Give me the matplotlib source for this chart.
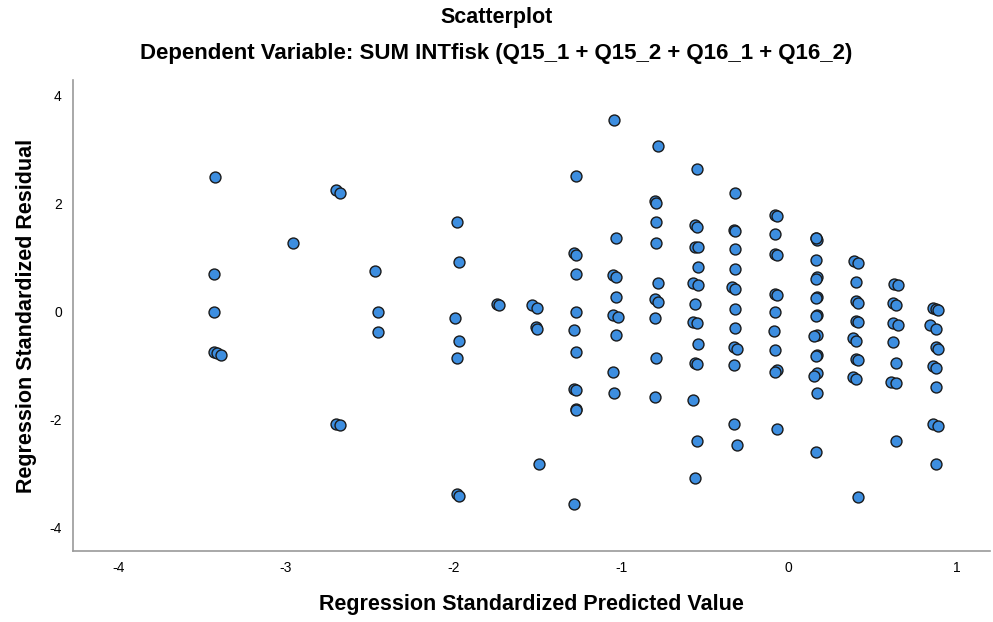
import matplotlib
matplotlib.use("Agg")
import matplotlib.pyplot as plt

# standardized predicted value / standardized residual per case
pred = [
    -3.42, -3.43, -3.43, -3.43, -3.41, -3.39,
    -2.96,
    -2.70, -2.68, -2.70, -2.68,
    -2.47, -2.45, -2.45,
    -1.98, -1.97, -1.99, -1.97, -1.98, -1.98, -1.97,
    -1.74, -1.73,
    -1.53, -1.50, -1.51, -1.50, -1.49,
    -1.27, -1.28, -1.27, -1.27, -1.27, -1.28, -1.27, -1.28, -1.27, -1.27,
    -1.27, -1.28,
    -1.045, -1.03, -1.05, -1.03, -1.03, -1.05, -1.02, -1.03, -1.05, -1.04,
    -0.78, -0.80, -0.79, -0.79, -0.79, -0.78, -0.80, -0.78, -0.80, -0.79,
    -0.80,
    -0.55, -0.56, -0.55, -0.56, -0.54, -0.54, -0.57, -0.54, -0.56, -0.57,
    -0.55, -0.54, -0.56, -0.55, -0.57, -0.55, -0.56,
    -0.32, -0.33, -0.32, -0.32, -0.32, -0.34, -0.32, -0.32, -0.32, -0.33,
    -0.31, -0.33, -0.33, -0.31,
    -0.08, -0.07, -0.08, -0.08, -0.07, -0.08, -0.07, -0.08, -0.09, -0.08,
    -0.07, -0.08, -0.07,
    0.16, 0.17, 0.16, 0.17, 0.16, 0.17, 0.16, 0.17, 0.16, 0.17,
    0.15, 0.17, 0.16, 0.17, 0.15, 0.17, 0.16, 0.16,
    0.39, 0.41, 0.40, 0.40, 0.41, 0.40, 0.41, 0.38, 0.40, 0.40,
    0.41, 0.38, 0.40, 0.41,
    0.63, 0.65, 0.62, 0.64, 0.62, 0.65, 0.62, 0.64, 0.61, 0.64,
    0.64,
    0.86, 0.88, 0.89, 0.84, 0.88, 0.88, 0.89, 0.86, 0.88, 0.88,
    0.86, 0.89, 0.88,
]
resid = [
    2.48, 0.70, -0.02, -0.76, -0.78, -0.81,
    1.26,
    2.24, 2.20, -2.09, -2.11,
    0.74, -0.02, -0.39,
    1.65, 0.91, -0.13, -0.54, -0.87, -3.39, -3.42,
    0.13, 0.12,
    0.11, 0.07, -0.29, -0.32, -2.83,
    2.50, 1.08, 1.05, 0.70, -0.02, -0.35, -0.76, -1.43, -1.46, -1.80,
    -1.82, -3.57,
    3.54, 1.35, 0.67, 0.63, 0.26, -0.06, -0.11, -0.43, -1.13, -1.52,
    3.06, 2.04, 2.00, 1.65, 1.27, 0.53, 0.22, 0.17, -0.13, -0.87,
    -1.59,
    2.64, 1.59, 1.57, 1.20, 1.19, 0.83, 0.52, 0.48, 0.14, -0.20,
    -0.22, -0.61, -0.95, -0.97, -1.65, -2.40, -3.09,
    2.20, 1.51, 1.48, 1.15, 0.78, 0.45, 0.41, 0.05, -0.30, -0.66,
    -0.69, -1.00, -2.09, -2.48,
    1.78, 1.76, 1.43, 1.07, 1.05, 0.33, 0.31, -0.02, -0.37, -0.72,
    -1.09, -1.12, -2.18,
    1.35, 1.33, 0.96, 0.63, 0.60, 0.27, 0.24, -0.06, -0.09, -0.43,
    -0.46, -0.80, -0.83, -1.15, -1.19, -1.52, -2.61, 1.36,
    0.93, 0.90, 0.54, 0.19, 0.16, -0.17, -0.19, -0.50, -0.54, -0.88,
    -0.91, -1.22, -1.25, -3.43,
    0.50, 0.48, 0.15, 0.11, -0.22, -0.26, -0.57, -0.96, -1.30, -1.33,
    -2.41,
    0.06, 0.04, 0.02, -0.26, -0.32, -0.66, -0.69, -1.02, -1.05, -1.41,
    -2.09, -2.13, -2.83,
]
x_ticks = [-4, -3, -2, -1, 0, 1]
y_ticks = [-4, -2, 0, 2, 4]

plt.rcParams["font.family"] = ["Liberation Sans", "DejaVu Sans"]
plt.rcParams["axes.unicode_minus"] = False

fig = plt.figure(figsize=(9.93, 6.22), dpi=100)
ax = fig.add_axes([0.0735, 0.114, 0.9235, 0.757])

ax.scatter(pred, resid, s=62, color="#3d8ee0", edgecolors="#1a1a1a",
           linewidths=1.0, zorder=3)

ax.set_xlim(-4.27, 1.2)
ax.set_ylim(-4.44, 4.28)
ax.set_xticks(x_ticks)
ax.set_yticks(y_ticks)
ax.tick_params(length=0, labelsize=10)
ax.tick_params(axis="x", pad=7)
ax.tick_params(axis="y", pad=8)

for side in ("top", "right"):
    ax.spines[side].set_visible(False)
for side in ("left", "bottom"):
    ax.spines[side].set_color("#9a9a9a")
    ax.spines[side].set_linewidth(1.2)

ax.set_xlabel("Regression Standardized Predicted Value", fontsize=15.5,
              fontweight="bold", labelpad=14)
ax.set_ylabel("Regression Standardized Residual", fontsize=15.5,
              fontweight="bold", labelpad=9)

fig.text(0.5, 0.972, "Scatterplot", ha="center", va="center",
         fontsize=15.5, fontweight="bold")
fig.text(0.5, 0.914,
         "Dependent Variable: SUM INTfisk (Q15_1 + Q15_2 + Q16_1 + Q16_2)",
         ha="center", va="center", fontsize=16, fontweight="bold")

fig.savefig("out.png", dpi=100)
